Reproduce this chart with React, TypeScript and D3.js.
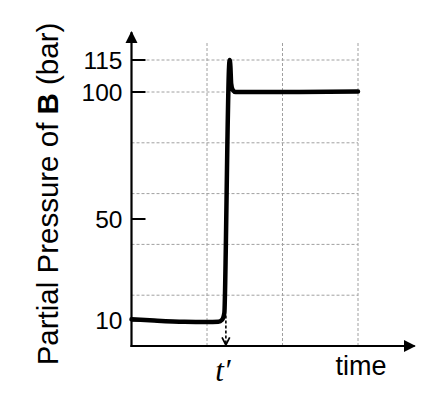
import React from "react";
import * as d3 from "d3";

// schematic curve: time (grid units) vs partial pressure of B (bar)
const curveT = [0, 0.3, 0.7, 1.0, 1.15, 1.2, 1.23, 1.25, 1.27, 1.29, 1.3, 1.31, 1.32, 1.34, 1.38, 2.0, 3.0];
const curveP = [10.5, 10, 9.5, 9.4, 9.5, 10.3, 13, 40, 80, 110, 115, 112, 104, 101, 100, 100, 100.2];

const yTicks = [10, 50, 100, 115];
const yGrid = [20, 40, 60, 80, 100, 115];
const xGrid = [1, 2, 3];
const tPrime = 1.25;

const W = 440;
const H = 397;

const App = () => {
  const x = d3.scaleLinear().domain([0, 3]).range([131.5, 358]);
  // the labels are schematic, so the scale bends at 100
  const y = d3.scaleLinear().domain([0, 100, 115]).range([346, 92, 60]);

  const xEnd = 3.75;
  const yTop = 128;
  const gridTop = 123.5;

  const line = d3
    .line<number>()
    .x((d, i) => x(curveT[i]))
    .y((d) => y(d))
    .curve(d3.curveMonotoneX);

  const grey = "#a0a0a0";
  const font = "'Liberation Sans', Arial, sans-serif";

  return (
    <svg width={W} height={H} style={{ position: "absolute", left: 0, top: 0 }}>
      <defs>
        <marker id="head" viewBox="0 0 10 10" refX="9" refY="5" markerWidth="5.5" markerHeight="5.5" orient="auto">
          <path d="M0,0 L10,5 L0,10 z" fill="black" />
        </marker>
        <marker id="open" viewBox="0 0 10 10" refX="9" refY="5" markerWidth="6" markerHeight="6" orient="auto">
          <path d="M1,1 L9,5 L1,9" fill="none" stroke="black" strokeWidth="1.8" />
        </marker>
      </defs>

      {/* grid */}
      {yGrid.map((v) => (
        <line key={"h" + v} x1={x(0)} x2={x(3)} y1={y(v)} y2={y(v)} stroke={grey} strokeWidth={1} strokeDasharray="3,2" />
      ))}
      {xGrid.map((t) => (
        <line key={"v" + t} x1={x(t)} x2={x(t)} y1={y(0)} y2={y(gridTop)} stroke={grey} strokeWidth={1} strokeDasharray="3,2" />
      ))}

      {/* ticks + labels */}
      {yTicks.map((v) => (
        <g key={"t" + v}>
          <line x1={x(0)} x2={x(0) + 14} y1={y(v)} y2={y(v)} stroke="black" strokeWidth={2} />
          <text x={x(0) - 9} y={y(v)} dy="0.36em" textAnchor="end" fontFamily={font} fontSize={24.5}>
            {v}
          </text>
        </g>
      ))}

      {/* axes */}
      <line x1={x(0)} x2={x(0)} y1={y(0) + 1} y2={y(yTop)} stroke="black" strokeWidth={2.2} markerEnd="url(#head)" />
      <line x1={x(0) - 1} x2={x(xEnd)} y1={y(0)} y2={y(0)} stroke="black" strokeWidth={2.2} markerEnd="url(#head)" />

      {/* t' marker */}
      <line x1={x(tPrime)} x2={x(tPrime)} y1={y(12)} y2={y(0) - 1} stroke="black" strokeWidth={1.6} strokeDasharray="3,2" markerEnd="url(#open)" />

      {/* curve */}
      <path d={line(curveP) || ""} fill="none" stroke="black" strokeWidth={4.5} strokeLinejoin="round" strokeLinecap="round" />

      {/* labels */}
      <text x={x(tPrime) - 3} y={381} textAnchor="middle" fontFamily="'Liberation Serif', 'DejaVu Serif', serif" fontStyle="italic" fontSize={31}>
        t′
      </text>
      <text x={361} y={375} textAnchor="middle" fontFamily={font} fontSize={27}>
        time
      </text>
      <text transform={`translate(58,194) rotate(-90)`} textAnchor="middle" fontFamily={font} fontSize={29.5}>
        Partial Pressure of <tspan fontWeight="bold">B</tspan> (bar)
      </text>
    </svg>
  );
};

export default App;
